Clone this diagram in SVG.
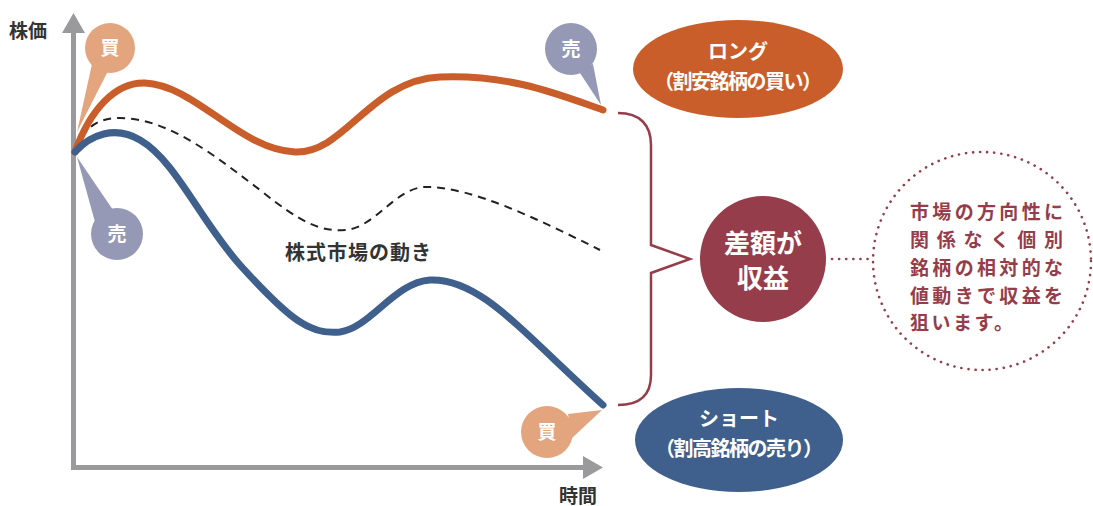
<svg xmlns="http://www.w3.org/2000/svg" width="1093" height="506" viewBox="0 0 1093 506">
<style>
text{font-family:"Noto Sans CJK JP","Noto Sans",sans-serif;font-weight:bold}
.ax{fill:#333;font-size:19px}
.bub{fill:#fff;font-size:19px;text-anchor:middle}
.wt{fill:#fff;font-size:20px;text-anchor:middle}
.mt{fill:#963d4b;font-size:19px}
</style>
<rect width="1093" height="506" fill="#fff"/>
<g id="axes">
<line x1="73.5" y1="470" x2="73.5" y2="30" stroke="#9a9a9c" stroke-width="5"/>
<polygon points="73.5,13 62,33 85,33" fill="#9a9a9c"/>
<line x1="71" y1="467.5" x2="586" y2="467.5" stroke="#9a9a9c" stroke-width="5"/>
<polygon points="603,467.5 583,456 583,479" fill="#9a9a9c"/>
<text class="ax" x="9" y="38">株価</text>
<text class="ax" x="559" y="503">時間</text>
</g>
<g id="connectors" fill="none" stroke-linecap="round">
<path id="market" d="M76,150 C85,125 100,118 120,118 C170,118 220,160 260,190 C300,222 320,232 345,230 C375,228 395,188 425,187 C470,186 540,220 600,250" stroke="#222" stroke-width="2" stroke-dasharray="8,6" stroke-linecap="butt"/>
<path id="long" d="M75,152 C90,110 115,82 145,83 C195,85 240,150 295,152 C345,154 370,80 440,77 C510,74 560,95 603,110" stroke="#c95e2a" stroke-width="7"/>
<path id="short" d="M75,152 C90,135 115,125 140,140 C175,160 200,220 240,265 C290,320 310,335 340,332 C370,328 395,282 430,280 C480,278 520,330 603,405" stroke="#3f5f8c" stroke-width="7"/>
<path id="brace" d="M618,113 C640,113 651,125 651,145 L651,245 L690,259 L651,273 L651,375 C651,395 640,405 618,405" stroke="#963d4b" stroke-width="2.5" stroke-linejoin="miter" stroke-linecap="butt"/>
<line id="dotline" x1="832" y1="259" x2="872" y2="259" stroke="#963d4b" stroke-width="2.6" stroke-dasharray="0.1,7"/>
</g>
<text x="285" y="260" fill="#333" font-size="20" letter-spacing="1">株式市場の動き</text>
<g id="buy1">
<polygon points="77,132 92,64 108,71" fill="#e3a57d"/>
<circle cx="110" cy="48" r="25" fill="#e3a57d"/>
<text class="bub" x="110" y="55">買</text>
</g>
<g id="sell1">
<polygon points="77,157 95,222 113,210" fill="#9699b6"/>
<circle cx="117" cy="234" r="26" fill="#9699b6"/>
<text class="bub" x="117" y="241">売</text>
</g>
<g id="sell2">
<polygon points="601,105 578,70 593,64" fill="#9699b6"/>
<circle cx="571" cy="49" r="26" fill="#9699b6"/>
<text class="bub" x="571" y="56">売</text>
</g>
<g id="buy2">
<polygon points="602,410 568,414 572,438" fill="#e3a57d"/>
<circle cx="547" cy="432" r="26" fill="#e3a57d"/>
<text class="bub" x="547" y="439">買</text>
</g>
<g id="long-label">
<ellipse cx="738" cy="69" rx="105" ry="49" fill="#c95e2a"/>
<text class="wt" x="738" y="59">ロング</text>
<text class="wt" x="738" y="89" textLength="168" lengthAdjust="spacing">（割安銘柄の買い）</text>
</g>
<g id="short-label">
<ellipse cx="739" cy="440" rx="104" ry="52" fill="#3f5f8c"/>
<text class="wt" x="739" y="426">ショート</text>
<text class="wt" x="739" y="456" textLength="168" lengthAdjust="spacing">（割高銘柄の売り）</text>
</g>
<g id="profit">
<circle cx="763" cy="259" r="63" fill="#963d4b"/>
<text x="763" y="253" fill="#fff" font-size="26" text-anchor="middle">差額が</text>
<text x="763" y="288" fill="#fff" font-size="26" text-anchor="middle">収益</text>
</g>
<g id="note">
<circle cx="982" cy="261" r="109" fill="none" stroke="#963d4b" stroke-width="2.6" stroke-dasharray="0.1,7" stroke-linecap="round"/>
<text class="mt" x="910" y="219" textLength="153" lengthAdjust="spacing">市場の方向性に</text>
<text class="mt" x="910" y="247" textLength="153" lengthAdjust="spacing">関係なく個別</text>
<text class="mt" x="910" y="275" textLength="153" lengthAdjust="spacing">銘柄の相対的な</text>
<text class="mt" x="910" y="303" textLength="153" lengthAdjust="spacing">値動きで収益を</text>
<text class="mt" x="910" y="330" letter-spacing="2.5">狙います。</text>
</g>
</svg>
